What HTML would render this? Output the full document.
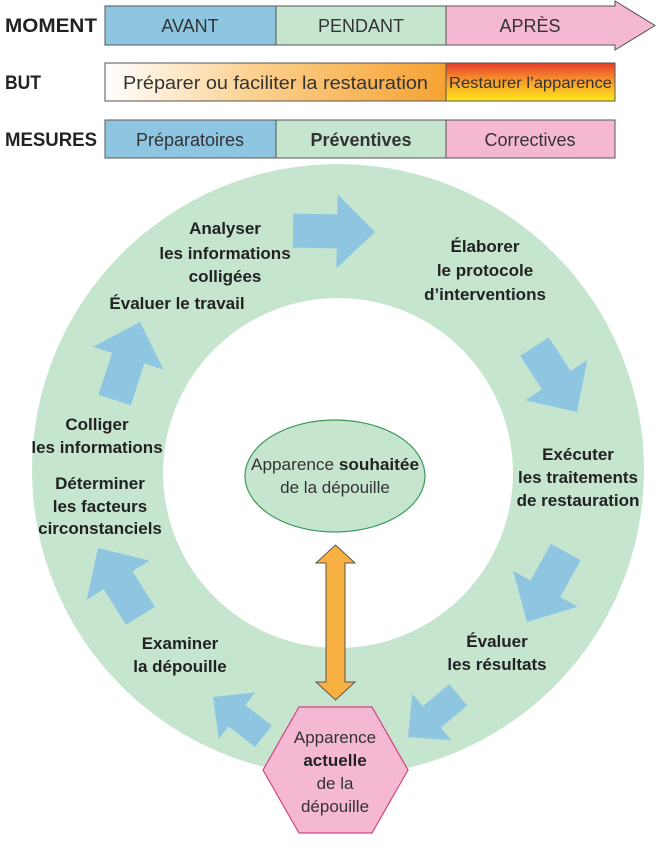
<!DOCTYPE html>
<html><head><meta charset="utf-8"><style>
html,body{margin:0;padding:0;background:#fff;}
svg{display:block;}
text{font-family:"Liberation Sans Narrow","Liberation Sans",sans-serif;fill:#222;}
.b{font-weight:bold;font-size:19px;}
.n{font-size:18px;fill:#333;}
.l{font-weight:bold;font-size:17px;fill:#222;}
</style></head><body>
<svg width="662" height="851" viewBox="0 0 662 851" xmlns="http://www.w3.org/2000/svg">
<defs>
<linearGradient id="g1" x1="0" x2="1" y1="0" y2="0"><stop offset="0" stop-color="#fff"/><stop offset="0.45" stop-color="#fbcf8c"/><stop offset="1" stop-color="#f6a232"/></linearGradient>
<linearGradient id="g2" x1="0" x2="0" y1="0" y2="1"><stop offset="0" stop-color="#e63c2a"/><stop offset="0.45" stop-color="#f7962c"/><stop offset="1" stop-color="#ffe81a"/></linearGradient>
</defs>
<!-- labels -->
<text x="5" y="32" class="b" textLength="92" lengthAdjust="spacingAndGlyphs">MOMENT</text>
<text x="5" y="89" class="b" textLength="36" lengthAdjust="spacingAndGlyphs">BUT</text>
<text x="5" y="146" class="b" textLength="92" lengthAdjust="spacingAndGlyphs">MESURES</text>
<!-- moment row -->
<rect x="105" y="6" width="171" height="39" fill="#8ec6e2" stroke="#555"/>
<rect x="276" y="6" width="170" height="39" fill="#c5e5cf" stroke="#555"/>
<path d="M446,6 L615,6 L615,1 L655,25.5 L615,50 L615,45 L446,45 Z" fill="#f5b8d3" stroke="#555"/>
<text x="190" y="32" text-anchor="middle" class="n">AVANT</text>
<text x="361" y="32" text-anchor="middle" class="n">PENDANT</text>
<text x="530" y="32" text-anchor="middle" class="n">APRÈS</text>
<!-- but row -->
<rect x="105" y="63" width="341" height="38" fill="url(#g1)" stroke="#555"/>
<rect x="446" y="63" width="169" height="38" fill="url(#g2)" stroke="#555"/>
<text x="123" y="89" class="n" textLength="305" lengthAdjust="spacingAndGlyphs">Préparer ou faciliter la restauration</text>
<text x="449" y="88" style="font-size:16px" class="n" textLength="163" lengthAdjust="spacingAndGlyphs">Restaurer l’apparence</text>
<!-- mesures row -->
<rect x="105" y="120" width="171" height="38" fill="#8ec6e2" stroke="#555"/>
<rect x="276" y="120" width="170" height="38" fill="#c5e5cf" stroke="#555"/>
<rect x="446" y="120" width="169" height="38" fill="#f5b8d3" stroke="#555"/>
<text x="190" y="146" text-anchor="middle" class="n">Préparatoires</text>
<text x="361" y="146" text-anchor="middle" class="n" style="font-weight:bold">Préventives</text>
<text x="530" y="146" text-anchor="middle" class="n">Correctives</text>
<!-- ring -->
<circle cx="338" cy="470" r="306" fill="#c5e5cf"/>
<circle cx="338" cy="473" r="175" fill="#fff"/>
<!-- blue arrows -->
<g fill="#8ec6e2">
<polygon transform="translate(375,232) rotate(1)" points="0,0 -38,-37 -38,-17 -82,-17 -82,17 -38,17 -38,37"/>
<polygon transform="translate(577,412) rotate(57)" points="0,0 -38,-37 -38,-17 -78,-17 -78,17 -38,17 -38,37"/>
<polygon transform="translate(527,622) rotate(119)" points="0,0 -38,-37 -38,-17 -80,-17 -80,17 -38,17 -38,37"/>
<polygon transform="translate(408,737) rotate(140) scale(0.82)" points="0,0 -38,-37 -38,-17 -80,-17 -80,17 -38,17 -38,37"/>
<polygon transform="translate(213,697) rotate(218) scale(0.8)" points="0,0 -38,-37 -38,-17 -80,-17 -80,17 -38,17 -38,37"/>
<polygon transform="translate(98,548) rotate(238)" points="0,0 -38,-37 -38,-17 -80,-17 -80,17 -38,17 -38,37"/>
<polygon transform="translate(140,322) rotate(-72)" points="0,0 -38,-37 -38,-17 -82,-17 -82,17 -38,17 -38,37"/>
</g>
<!-- ring labels -->
<g class="l" text-anchor="middle">
<text x="225" y="234" class="l">Analyser</text>
<text x="225" y="259" class="l">les informations</text>
<text x="225" y="282" class="l">colligées</text>
<text x="177" y="309" class="l">Évaluer le travail</text>
<text x="485" y="252" class="l">Élaborer</text>
<text x="485" y="276" class="l">le protocole</text>
<text x="485" y="300" class="l">d’interventions</text>
<text x="97" y="430" class="l">Colliger</text>
<text x="97" y="453" class="l">les informations</text>
<text x="100" y="489" class="l">Déterminer</text>
<text x="100" y="512" class="l">les facteurs</text>
<text x="100" y="534" class="l">circonstanciels</text>
<text x="578" y="460" class="l">Exécuter</text>
<text x="578" y="483" class="l">les traitements</text>
<text x="578" y="506" class="l">de restauration</text>
<text x="180" y="649" class="l">Examiner</text>
<text x="180" y="672" class="l">la dépouille</text>
<text x="497" y="647" class="l">Évaluer</text>
<text x="497" y="670" class="l">les résultats</text>
</g>
<!-- center ellipse -->
<ellipse cx="335" cy="476" rx="90" ry="56" fill="#c5e5cf" stroke="#3a9a5a" stroke-width="1.2"/>
<text x="335" y="470" text-anchor="middle" style="font-size:17px;fill:#333" textLength="168" lengthAdjust="spacingAndGlyphs">Apparence <tspan style="font-weight:bold;fill:#222">souhaitée</tspan></text>
<text x="335" y="493" text-anchor="middle" style="font-size:17px;fill:#333">de la dépouille</text>
<!-- orange double arrow -->
<polygon points="335.5,545 355,563 345,563 345,682 355,682 335.5,700 316,682 326,682 326,563 316,563" fill="#f9b042" stroke="#555" stroke-width="1"/>
<!-- hexagon -->
<polygon points="299,707 372,707 408,770 372,833 299,833 263,770" fill="#f5b8d3" stroke="#d0457f" stroke-width="1.2"/>
<g text-anchor="middle" style="font-size:17px">
<text x="335" y="743" style="fill:#333">Apparence</text>
<text x="335" y="766" style="font-weight:bold;fill:#222">actuelle</text>
<text x="335" y="789" style="fill:#333">de la</text>
<text x="335" y="812" style="fill:#333">dépouille</text>
</g>
</svg>
</body></html>
